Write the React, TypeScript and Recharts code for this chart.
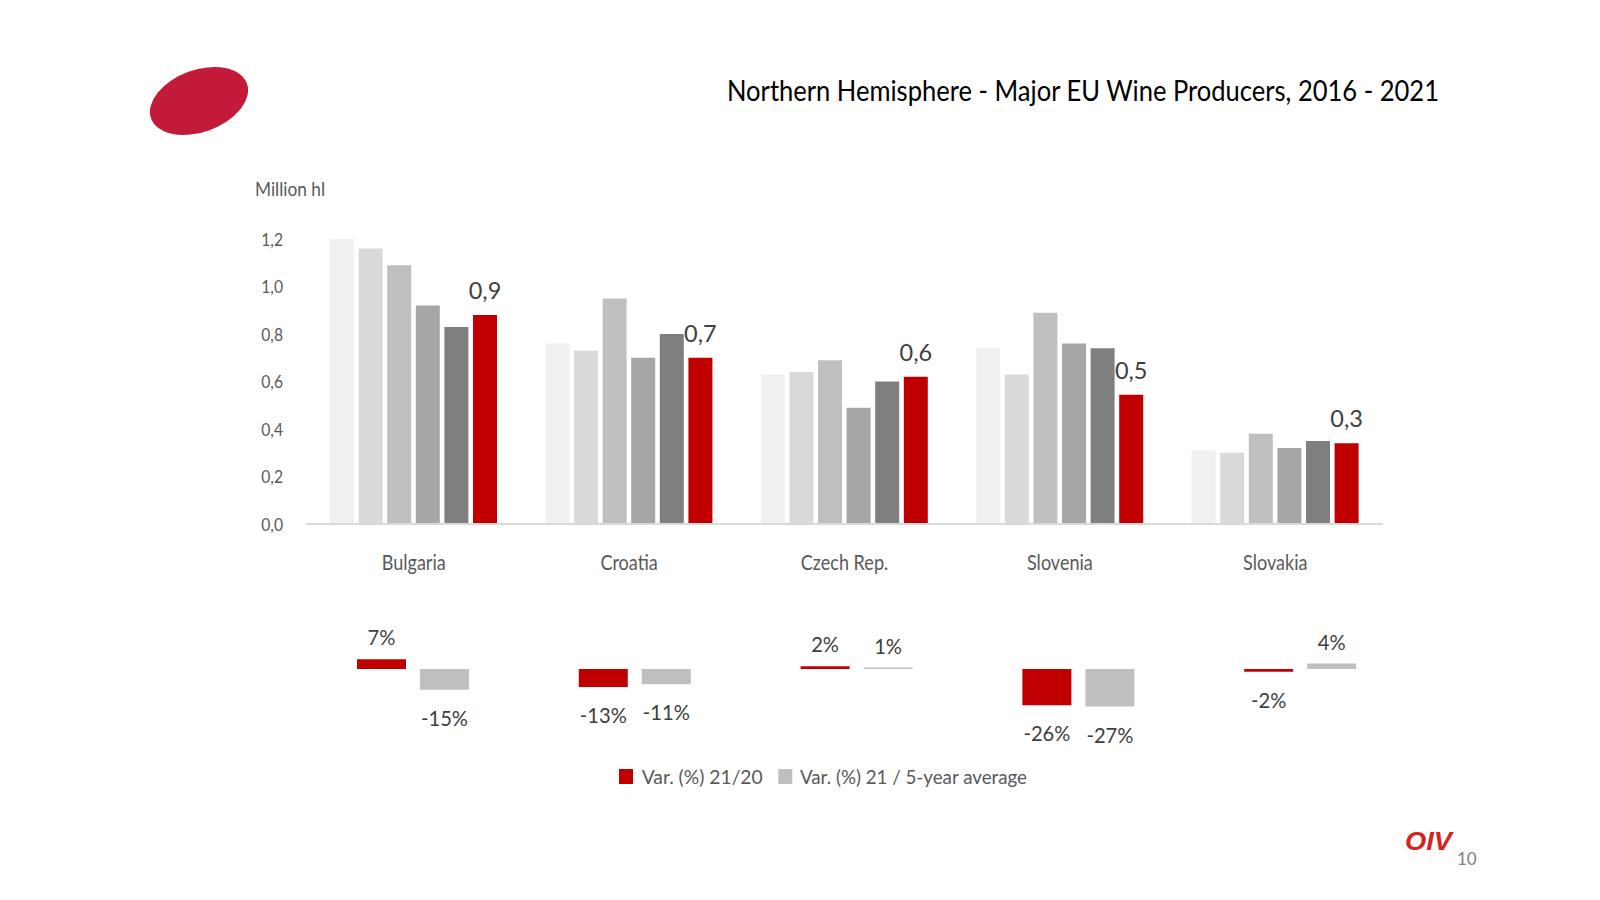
import React from 'react';
import { BarChart, Bar, XAxis, YAxis, LabelList, Legend } from 'recharts';

const countries = ['Bulgaria', 'Croatia', 'Czech Rep.', 'Slovenia', 'Slovakia'];
const y2016 = [1.20, 0.76, 0.63, 0.74, 0.31];
const y2017 = [1.16, 0.73, 0.64, 0.63, 0.30];
const y2018 = [1.09, 0.95, 0.69, 0.89, 0.38];
const y2019 = [0.92, 0.70, 0.49, 0.76, 0.32];
const y2020 = [0.83, 0.80, 0.60, 0.74, 0.35];
const y2021 = [0.88, 0.70, 0.62, 0.544, 0.34];
const yTicks = [0, 0.2, 0.4, 0.6, 0.8, 1.0, 1.2];

const var2120 = [7, -13, 2, -26, -2];
const var5yr = [-15, -11, 1, -27, 4];

const yearKeys = ['y2016', 'y2017', 'y2018', 'y2019', 'y2020', 'y2021'];
const yearColors = ['#f0f0f0', '#d9d9d9', '#bfbfbf', '#a6a6a6', '#7f7f7f', '#c00000'];

const mainData = countries.map((c, i) => ({
  country: c,
  y2016: y2016[i],
  y2017: y2017[i],
  y2018: y2018[i],
  y2019: y2019[i],
  y2020: y2020[i],
  y2021: y2021[i],
}));

const varData = countries.map((c, i) => ({
  country: c,
  v1: var2120[i],
  v2: var5yr[i],
}));

const FONT = 'Lato, "Open Sans", sans-serif';

const fmtComma = (v: number, d: number) => v.toFixed(d).replace('.', ',');

const STxt = (p: any) => (
  <text transform={`translate(${p.x},${p.y}) scale(${p.sx ?? 1},1)`} x={0} y={0}
    textAnchor={p.anchor ?? 'middle'} dominantBaseline="central"
    fontFamily={FONT} fontSize={p.size} fill={p.fill}>
    {p.children}
  </text>
);

const XTick = (props: any) => {
  const { x, y, payload } = props;
  return <STxt x={x} y={y + 38} sx={0.86} size={21} fill="#595959">{payload.value}</STxt>;
};

const YTick = (props: any) => {
  const { x, y, payload } = props;
  return <STxt x={x} y={y} sx={0.87} size={18} anchor="end" fill="#595959">{fmtComma(Number(payload.value), 1)}</STxt>;
};

const RedLabel = (props: any) => {
  const { x, y, width, value } = props;
  return <STxt x={x + width / 2} y={y - 25} size={23.5} fill="#404040">{fmtComma(Number(value), 1)}</STxt>;
};

const VarLabel = (props: any) => {
  const { x, y, width, height, value } = props;
  const top = Math.min(y, y + height);
  const bottom = Math.max(y, y + height);
  const v = Number(value);
  const ty = v >= 0 ? top - 22 : bottom + 28;
  return <STxt x={x + width / 2} y={ty} sx={0.96} size={21} fill="#404040">{`${v}%`}</STxt>;
};

const LegendContent = () => (
  <svg width={420} height={22} style={{ display: 'block', overflow: 'visible' }}>
    <rect x={0} y={0} width={14} height={15} fill="#c00000" />
    <text x={22.7} y={14.5} fontFamily={FONT} fontSize={19.5} fill="#595959"
      textLength={121} lengthAdjust="spacingAndGlyphs">Var. (%) 21/20</text>
    <rect x={159.3} y={0} width={14} height={15} fill="#bfbfbf" />
    <text x={181} y={14.5} fontFamily={FONT} fontSize={19.5} fill="#595959"
      textLength={227} lengthAdjust="spacingAndGlyphs">Var. (%) 21 / 5-year average</text>
  </svg>
);

export default function App() {
  return (
    <div style={{ position: 'absolute', left: 0, top: 0, width: 1600, height: 900, background: '#fff', overflow: 'hidden' }}>
      <svg width={1600} height={900} style={{ position: 'absolute', left: 0, top: 0 }}>
        <ellipse cx={199} cy={101} rx={51} ry={31} transform="rotate(-20 199 101)" fill="#c21a38" />
        <text x={727} y={101} fontFamily={FONT} fontSize={29} fill="#000"
          textLength={712} lengthAdjust="spacingAndGlyphs">
          Northern Hemisphere - Major EU Wine Producers, 2016 - 2021
        </text>
        <text x={255} y={196} fontFamily={FONT} fontSize={19} fill="#595959"
          textLength={70} lengthAdjust="spacingAndGlyphs">Million hl</text>
        <text x={1405} y={850} fontFamily='"Liberation Sans", Arial, sans-serif' fontSize={26}
          fontWeight="bold" fontStyle="italic" fill="#d9221c" textLength={47} lengthAdjust="spacingAndGlyphs">OIV</text>
        <text x={1457} y={865} fontFamily={FONT} fontSize={17} fill="#808080">10</text>
      </svg>

      <div style={{ position: 'absolute', left: 0, top: 0 }}>
        <BarChart width={1600} height={620} data={mainData}
          margin={{ top: 239, right: 217, bottom: 56, left: 246 }} barSize={24} barGap={4.6}>
          <XAxis dataKey="country" axisLine={{ stroke: '#d9d9d9', strokeWidth: 2 }} tickLine={false}
            tickSize={0} tickMargin={0} height={40} tick={<XTick />} interval={0} />
          <YAxis domain={[0, 1.2]} ticks={yTicks} axisLine={false} tickLine={false} width={60}
            tickSize={0} tickMargin={23} interval={0} tick={<YTick />} />
          {yearKeys.map((k, i) => (
            <Bar key={k} dataKey={k} fill={yearColors[i]} isAnimationActive={false}>
              {k === 'y2021' ? <LabelList dataKey={k} content={RedLabel} /> : null}
            </Bar>
          ))}
        </BarChart>
      </div>

      <div style={{ position: 'absolute', left: 0, top: 600 }}>
        <BarChart width={1600} height={220} data={varData}
          margin={{ top: 41.2, right: 189, bottom: 73.4, left: 302 }} barSize={49} barGap={14}>
          <XAxis dataKey="country" hide />
          <YAxis domain={[-40, 20]} hide />
          <Bar dataKey="v1" fill="#c00000" isAnimationActive={false}>
            <LabelList dataKey="v1" content={VarLabel} />
          </Bar>
          <Bar dataKey="v2" fill="#bfbfbf" isAnimationActive={false}>
            <LabelList dataKey="v2" content={VarLabel} />
          </Bar>
          <Legend content={LegendContent} wrapperStyle={{ position: 'absolute', left: 619, top: 169, width: 420, height: 22 }} />
        </BarChart>
      </div>
    </div>
  );
}
